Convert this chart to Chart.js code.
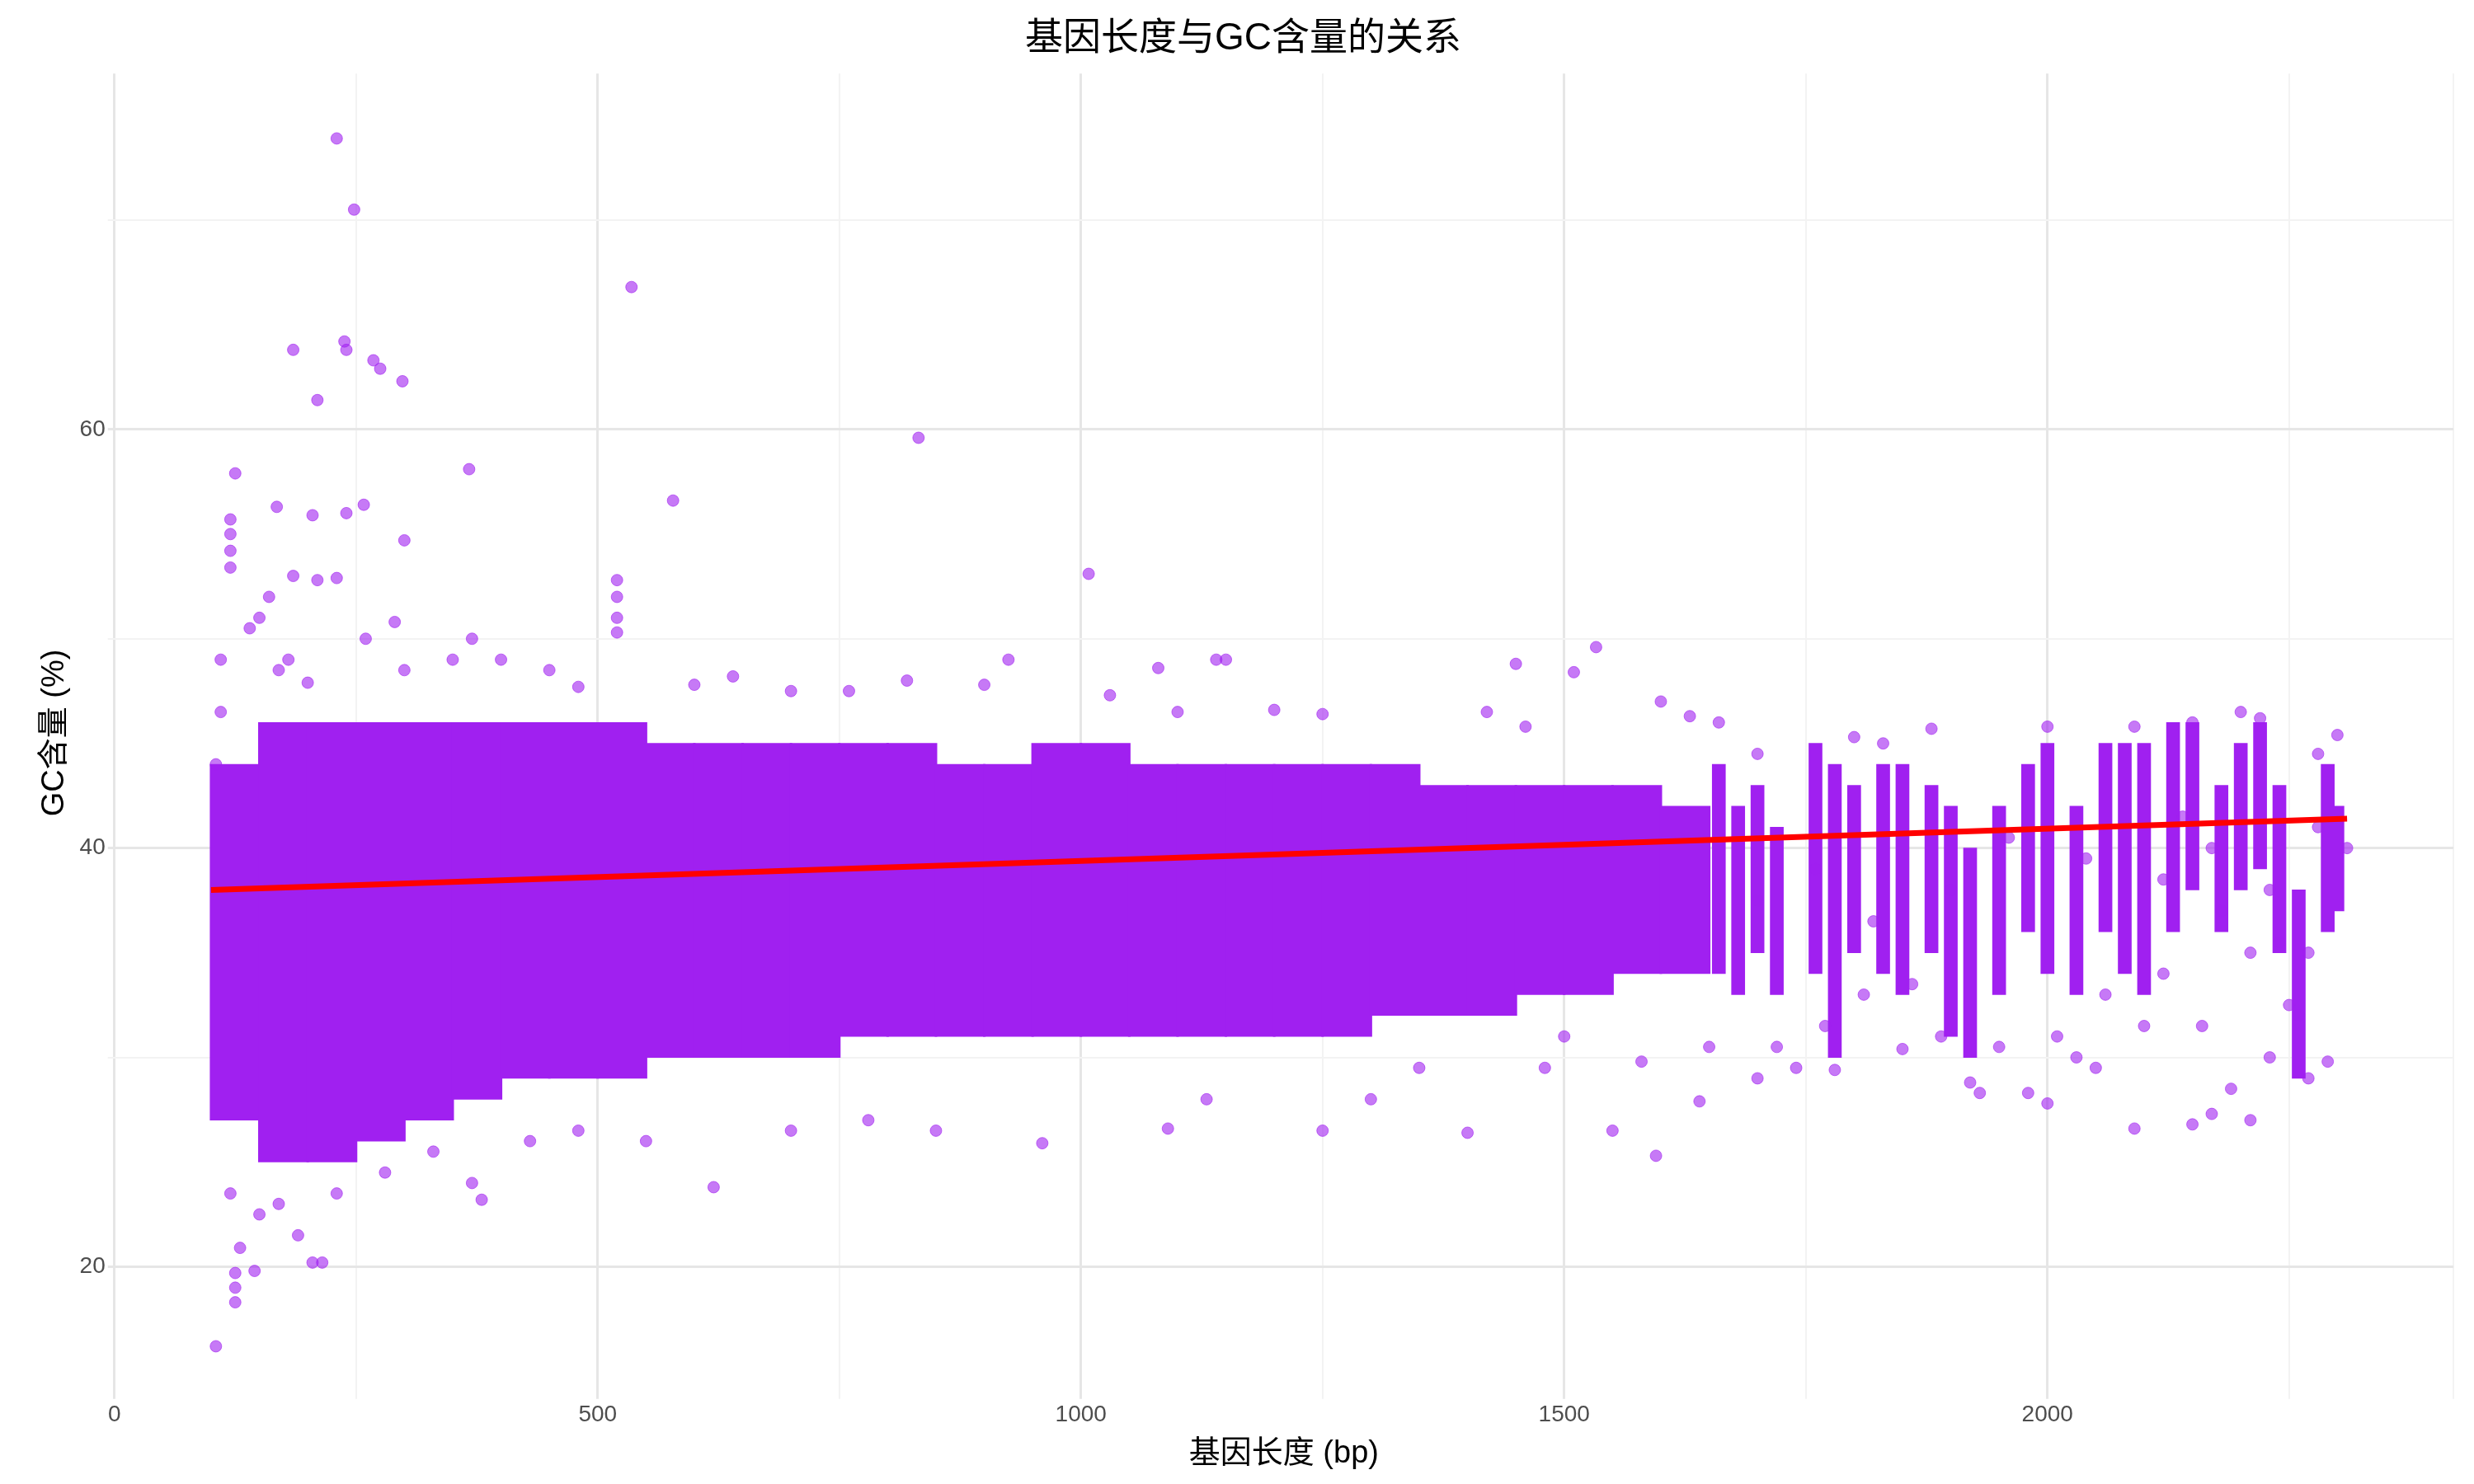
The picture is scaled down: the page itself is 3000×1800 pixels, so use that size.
<!DOCTYPE html>
<html>
<head>
<meta charset="utf-8">
<script src="https://cdn.jsdelivr.net/npm/chart.js@4"></script>
<style>
  body { margin: 0; background: #fff; }
  #wrap { width: 3000px; height: 1800px; }
</style>
</head>
<body>
<div id="wrap"><canvas id="gc"></canvas></div>
<script>
// dense core of the cloud, read per 50 bp column centre (low / high GC %)
const coreX = [125,175,225,275,325,375,425,475,525,575,625,675,725,775,825,875,925,975,1025,1075,1125,1175,1225,1275,1325,1375,1425,1475,1525,1575,1625];
const coreLow = [27,25,25,26,27,28,29,29,29,30,30,30,30,31,31,31,31,31,31,31,31,31,31,31,32,32,32,33,33,34,34];
const coreHigh = [44,46,46,46,46,46,46,46,46,45,45,45,45,45,45,44,44,45,45,44,44,44,44,44,44,43,43,43,43,43,42];

// vertical streaks in the sparse part (x > 1650)
const streakX = [1660,1680,1700,1720,1760,1780,1800,1830,1850,1880,1900,1920,1950,1980,2000,2030,2060,2080,2100,2130,2150,2180,2200,2220,2240,2260,2290,2300];
const streakLow = [34,33,35,33,34,30,35,34,33,35,31,30,33,36,34,33,36,34,33,36,38,36,38,39,35,29,36,37];
const streakHigh = [44,42,43,41,45,44,43,44,44,43,42,40,42,44,45,42,45,45,45,46,46,43,45,46,43,38,44,42];

// individual points outside the dense area
const pointX = [230,248,535,185,238,240,268,275,298,210,832,367,125,578,258,168,205,240,120,120,120,120,300,1008,185,210,230,520,520,520,520,1533,110,1140,925,1080,1450,1510,1600,105,125,125,125,145,205,215,130,120,380,370,620,960,1595,1550,1400,1090,1250,2090,2150,2170,2210,2000,1930,1980,2270,2290,2230,2190,2050,1850,1780,1640,1650,1700,1740,1580,1480,1500,2200,2220,2150,2090,2000,2280,2300,1880,1800,1830,1700,1660,1630,1420,1460,1250,1200,1100,1030,760,820,640,400,370,350,290,260,160,150,140,170,180,200,110,105,2250,2260,2240,2120,2100,2060,2030,2010,1950,1890,1920,1860,1810,1770,1720,2160,2180,2210,2170,2120,2280,2310,2270,2230,150,170,190,230,280,330,430,480,550,700,780,850,1130,1300,1350,1150,900,700,600,450,480,300,1700,1760,1820,1900,1960,2040,2140];
const pointY = [73.9,70.5,66.8,63.8,64.2,63.8,63.3,62.9,62.3,61.4,59.6,58.1,57.9,56.6,56.4,56.3,55.9,56.0,55.7,55.0,54.2,53.4,54.7,53.1,53.0,52.8,52.9,52.8,52.0,51.0,50.3,49.6,49.0,49.0,49.0,48.6,48.8,48.4,47.0,16.2,18.3,19.0,19.7,19.8,20.2,20.2,20.9,23.5,23.2,24.0,23.8,25.9,25.3,26.5,26.4,26.6,26.5,26.6,26.8,27.3,27.0,27.8,28.3,28.3,29.0,29.8,30.0,28.5,29.5,30.4,29.4,27.9,30.5,29.0,29.5,29.8,29.5,31.0,46.5,46.2,46.0,45.8,45.8,44.5,45.4,45.7,45.3,45.0,44.5,46.0,46.3,46.5,45.8,46.4,46.6,46.5,47.3,47.5,48.0,48.2,49.0,50.0,49.0,50.8,50.0,52.0,51.0,50.5,48.5,49.0,47.9,46.5,44.0,32.5,32.0,35.5,34.0,31.5,33.0,30.0,31.0,30.5,31.0,28.8,33.5,33.0,31.5,30.5,31.5,37.0,35.0,40.0,38.5,41.0,40.0,35.0,38.0,22.5,23.0,21.5,23.5,24.5,25.5,26.0,26.5,26.0,26.5,27.0,26.5,28.0,28.0,29.5,49.0,47.8,47.5,47.8,48.5,47.7,48.5,37.5,39.0,36.5,38.0,40.5,39.5,41.5];

// linear fit ends
const fitX = [100, 2310];
const fitY = [38.0, 41.4];

const purple = "#A020F0";
const purpleA = "rgba(160,32,240,0.6)";
const font = "'Liberation Sans', 'Noto Sans CJK SC', sans-serif";

function isMajor(ctx, step) {
  return ctx.tick && ctx.tick.value % step === 0;
}

new Chart(document.getElementById("gc"), {
  type: "scatter",
  data: {
    datasets: [
      {
        type: "line",
        data: fitX.map((x, i) => ({ x, y: fitY[i] })),
        borderColor: "#ff0000",
        borderWidth: 7,
        pointRadius: 0,
        order: 0,
      },
      {
        type: "bar",
        data: coreX.map((x, i) => ({ x, y: [coreLow[i], coreHigh[i]] })),
        backgroundColor: purple,
        barThickness: 61,
        grouped: false,
        order: 2,
      },
      {
        type: "bar",
        data: streakX.map((x, i) => ({ x, y: [streakLow[i], streakHigh[i]] })),
        backgroundColor: purple,
        barThickness: 16,
        grouped: false,
        order: 2,
      },
      {
        data: pointX.map((x, i) => ({ x, y: pointY[i] })),
        backgroundColor: purpleA,
        borderColor: purpleA,
        pointRadius: 7,
        order: 1,
      },
    ],
  },
  options: {
    responsive: true,
    maintainAspectRatio: false,
    animation: false,
    layout: { padding: { left: 40, right: 25, top: 10, bottom: 10 } },
    plugins: {
      legend: { display: false },
      tooltip: { enabled: false },
      title: {
        display: true,
        text: "基因长度与GC含量的关系",
        color: "#000",
        font: { family: font, size: 46, weight: "normal" },
        padding: { top: 10, bottom: 14 },
      },
    },
    scales: {
      x: {
        type: "linear",
        min: 0,
        max: 2420,
        offset: false,
        border: { display: false },
        grid: {
          offset: false,
          color: (ctx) => (isMajor(ctx, 500) ? "#e6e6e6" : "#f3f3f3"),
          lineWidth: (ctx) => (isMajor(ctx, 500) ? 3 : 2),
        },
        ticks: {
          stepSize: 250,
          color: "#4d4d4d",
          font: { family: font, size: 28 },
          callback: (v) => (v % 500 === 0 ? v : ""),
        },
        title: { display: true, text: "基因长度 (bp)", color: "#000", font: { family: font, size: 38 } },
      },
      y: {
        type: "linear",
        min: 14,
        max: 77,
        border: { display: false },
        afterBuildTicks: (axis) => {
          axis.ticks = [20, 30, 40, 50, 60, 70].map((value) => ({ value }));
        },
        grid: {
          color: (ctx) => (isMajor(ctx, 20) ? "#e6e6e6" : "#f3f3f3"),
          lineWidth: (ctx) => (isMajor(ctx, 20) ? 3 : 2),
        },
        ticks: {
          color: "#4d4d4d",
          font: { family: font, size: 28 },
          callback: (v) => (v % 20 === 0 ? v : ""),
        },
        title: { display: true, text: "GC含量 (%)", color: "#000", font: { family: font, size: 38 } },
      },
    },
  },
});
</script>
</body>
</html>
